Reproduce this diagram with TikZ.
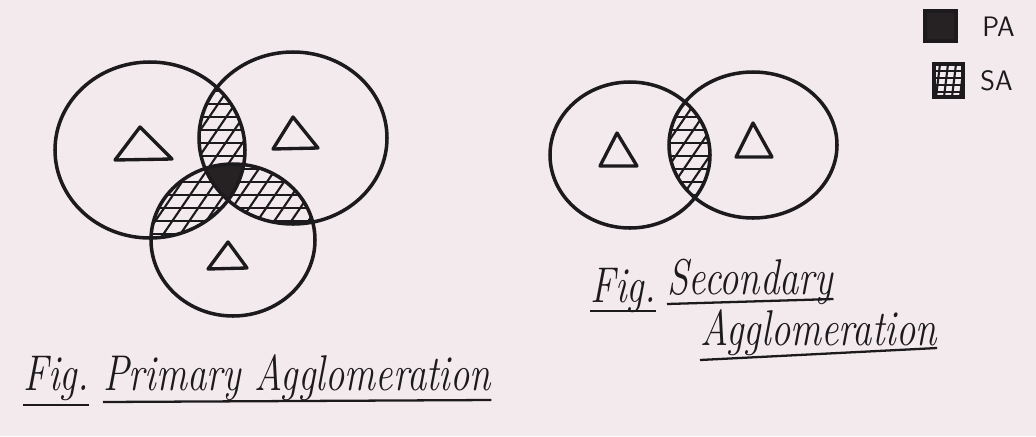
\documentclass[tikz,border=0pt]{standalone}
\usepackage{fontspec}
\usepackage{tikz}
\usetikzlibrary{positioning}
\definecolor{cPaper}{HTML}{F3EAEE}
\definecolor{cInk}{HTML}{1C1A1C}
\definecolor{cDark}{HTML}{262224}

% circle outlines (pixel coordinates, y downwards)
\newcommand{\circL}{(150,150) ellipse [x radius=95, y radius=88]}
\newcommand{\circR}{(293,138) ellipse [x radius=94, y radius=86]}
\newcommand{\circB}{(233,240) ellipse [x radius=82, y radius=76]}
\newcommand{\circSL}{(630,155) ellipse [x radius=80, y radius=73]}
\newcommand{\circSR}{(753,145) ellipse [x radius=84, y radius=73]}
\newcommand{\hatchit}{%
  \foreach \yy in {0,13,...,444} \draw[hline] (0,\yy) -- (1036,\yy);
  \foreach \xx in {-300,-283,...,1036} \draw[hline] (\xx,440) -- (\xx+300,0);}
\newcommand{\tallish}[1]{\scalebox{1}[1.3]{#1}}

\begin{document}
\begin{tikzpicture}[x=0.2mm,y=-0.2mm,
      ring/.style={draw=cInk,line width=2pt},
      hline/.style={draw=cInk,line width=1.2pt},
      tri/.style={draw=cInk,line width=1.9pt,line join=round},
      uline/.style={draw=cInk,line width=1.3pt},
      capt/.style={anchor=base west,text=cInk,font=\fontsize{22}{24}\selectfont\itshape,inner sep=0pt},
      key/.style={anchor=west,text=cInk,font=\sffamily\fontsize{16}{18}\selectfont,inner sep=0pt}]
    \fill[cPaper] (0,0) rectangle (1036,436);
    \useasboundingbox (0,0) rectangle (1036,436);
    % primary: pairwise overlaps hatched
    \begin{scope}\clip \circL; \clip \circR; \hatchit \end{scope}
    \begin{scope}\clip \circL; \clip \circB; \hatchit \end{scope}
    \begin{scope}\clip \circR; \clip \circB; \hatchit \end{scope}
    \begin{scope}\clip \circL; \clip \circR; \clip \circB;
      \fill[cDark] (0,0) rectangle (1036,436);
    \end{scope}
    \draw[ring] \circL;
    \draw[ring] \circR;
    \draw[ring] \circB;
    % secondary
    \begin{scope}\clip \circSL; \clip \circSR; \hatchit \end{scope}
    \draw[ring] \circSL;
    \draw[ring] \circSR;
    % triangles
    \draw[tri] (140,127) -- (172,159) -- (115,160) -- cycle;
    \draw[tri] (293,117) -- (318,148) -- (273,149) -- cycle;
    \draw[tri] (228,242) -- (247,268) -- (208,269) -- cycle;
    \draw[tri] (617,133) -- (637,166) -- (600,166) -- cycle;
    \draw[tri] (753,123) -- (772,157) -- (736,157) -- cycle;
    % legend
    \fill[cDark] (925,11) rectangle (956,41);
    \draw[ring] (925,11) rectangle (956,41);
    \begin{scope}\clip (934,64) rectangle (963,97);
      \foreach \yy in {64,71,...,97} \draw[hline] (934,\yy) -- (963,\yy);
      \foreach \xx in {928,936,...,968} \draw[hline] (\xx,97) -- (\xx+4,64);
    \end{scope}
    \draw[ring] (934,64) rectangle (963,97);
    \node[key] (pa) at (982,27) {PA};
    \node[key] (sa) at (980,81) {SA};
    % captions
    \node[capt] (figA) at (23,390) {\tallish{Fig.}};
    \node[capt] (capA) at (103,390) {\tallish{Primary Agglomeration}};
    \node[capt] (figB) at (590,302) {\tallish{Fig.}};
    \node[capt] (capB) at (667,294) {\tallish{Secondary}};
    \node[capt] (capC) at (700,345) {\tallish{Agglomeration}};
    \draw[uline] ([yshift=-3mm]figA.base west) -- ([yshift=-3mm]figA.base east);
    \draw[uline] ([yshift=-2.4mm]capA.base west) -- ([yshift=-2mm]capA.base east);
    \draw[uline] ([yshift=-1.8mm]figB.base west) -- ([yshift=-1.8mm]figB.base east);
    \draw[uline] ([yshift=-2mm]capB.base west) -- ([yshift=-1mm]capB.base east);
    \draw[uline] ([yshift=-3mm]capC.base west) -- ([yshift=-0.6mm]capC.base east);
  \end{tikzpicture}
\end{document}
